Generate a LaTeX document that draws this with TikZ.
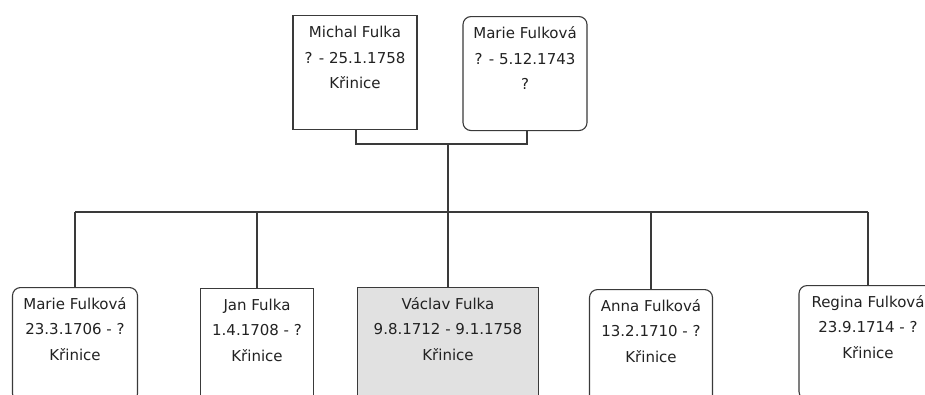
\documentclass[tikz,border=0pt]{standalone}
\usepackage{fontspec}
\setmainfont{DejaVu Sans}
\definecolor{linec}{HTML}{3A3A3A}
\definecolor{txt}{HTML}{222222}
\definecolor{hl}{HTML}{E1E1E1}
\newcommand{\fl}{\rule{0pt}{13pt}}
\begin{document}
\begin{tikzpicture}[x=1pt,y=-1pt,
  person/.style={draw=linec, line width=1.1pt, anchor=north, inner sep=0pt, fill=white, minimum height=114pt},
  male/.style={person},
  female/.style={person, rounded corners=8pt},
  info/.style={anchor=north, align=center, font=\fontsize{15}{25.5}\selectfont, text=txt, inner sep=0pt},
  link/.style={draw=linec, line width=1.1pt}]
\useasboundingbox (0,0) rectangle (925,394);
\clip (0,0) rectangle (925,394);
% parents
\node[male, minimum width=124pt] (michal) at (355,15) {};
\node[info] (michalT) at ([yshift=-9.5pt]michal.north) {\fl Michal Fulka\\? - 25.1.1758\\Křinice};
\node[female, minimum width=124pt] (marieP) at (525,16) {};
\node[info] (mariePT) at ([yshift=-9.5pt]marieP.north) {\fl Marie Fulková\\? - 5.12.1743\\?};
% children
\node[female, minimum width=125pt] (marie) at (75,287) {};
\node[info] (marieT) at ([yshift=-9pt]marie.north) {\fl Marie Fulková\\23.3.1706 - ?\\Křinice};
\node[male, minimum width=113pt] (jan) at (257,288) {};
\node[info] (janT) at ([yshift=-9pt]jan.north) {\fl Jan Fulka\\1.4.1708 - ?\\Křinice};
\node[male, minimum width=181pt, fill=hl] (vaclav) at (448,287) {};
\node[info] (vaclavT) at ([yshift=-9pt]vaclav.north) {\fl Václav Fulka\\9.8.1712 - 9.1.1758\\Křinice};
\node[female, minimum width=123pt] (anna) at (651,289) {};
\node[info] (annaT) at ([yshift=-9pt]anna.north) {\fl Anna Fulková\\13.2.1710 - ?\\Křinice};
\node[female, minimum width=138pt] (regina) at (868,285) {};
\node[info] (reginaT) at ([yshift=-9pt]regina.north) {\fl Regina Fulková\\23.9.1714 - ?\\Křinice};
% connectors
\coordinate (fl) at (356,144);
\coordinate (fr) at (527,144);
\coordinate (fc) at (448,144);
\coordinate (bar) at (448,212);
\draw[link] (356,129 |- michal.south) -- (fl) -- (fr) -- (527,130 |- marieP.south);
\draw[link] (fc) -- (bar);
\draw[link] (marie.north |- bar) -- (regina.north |- bar);
\foreach \c in {marie,jan,vaclav,anna,regina}{
  \draw[link] (\c.north |- bar) -- (\c.north);
}
\end{tikzpicture}
\end{document}
